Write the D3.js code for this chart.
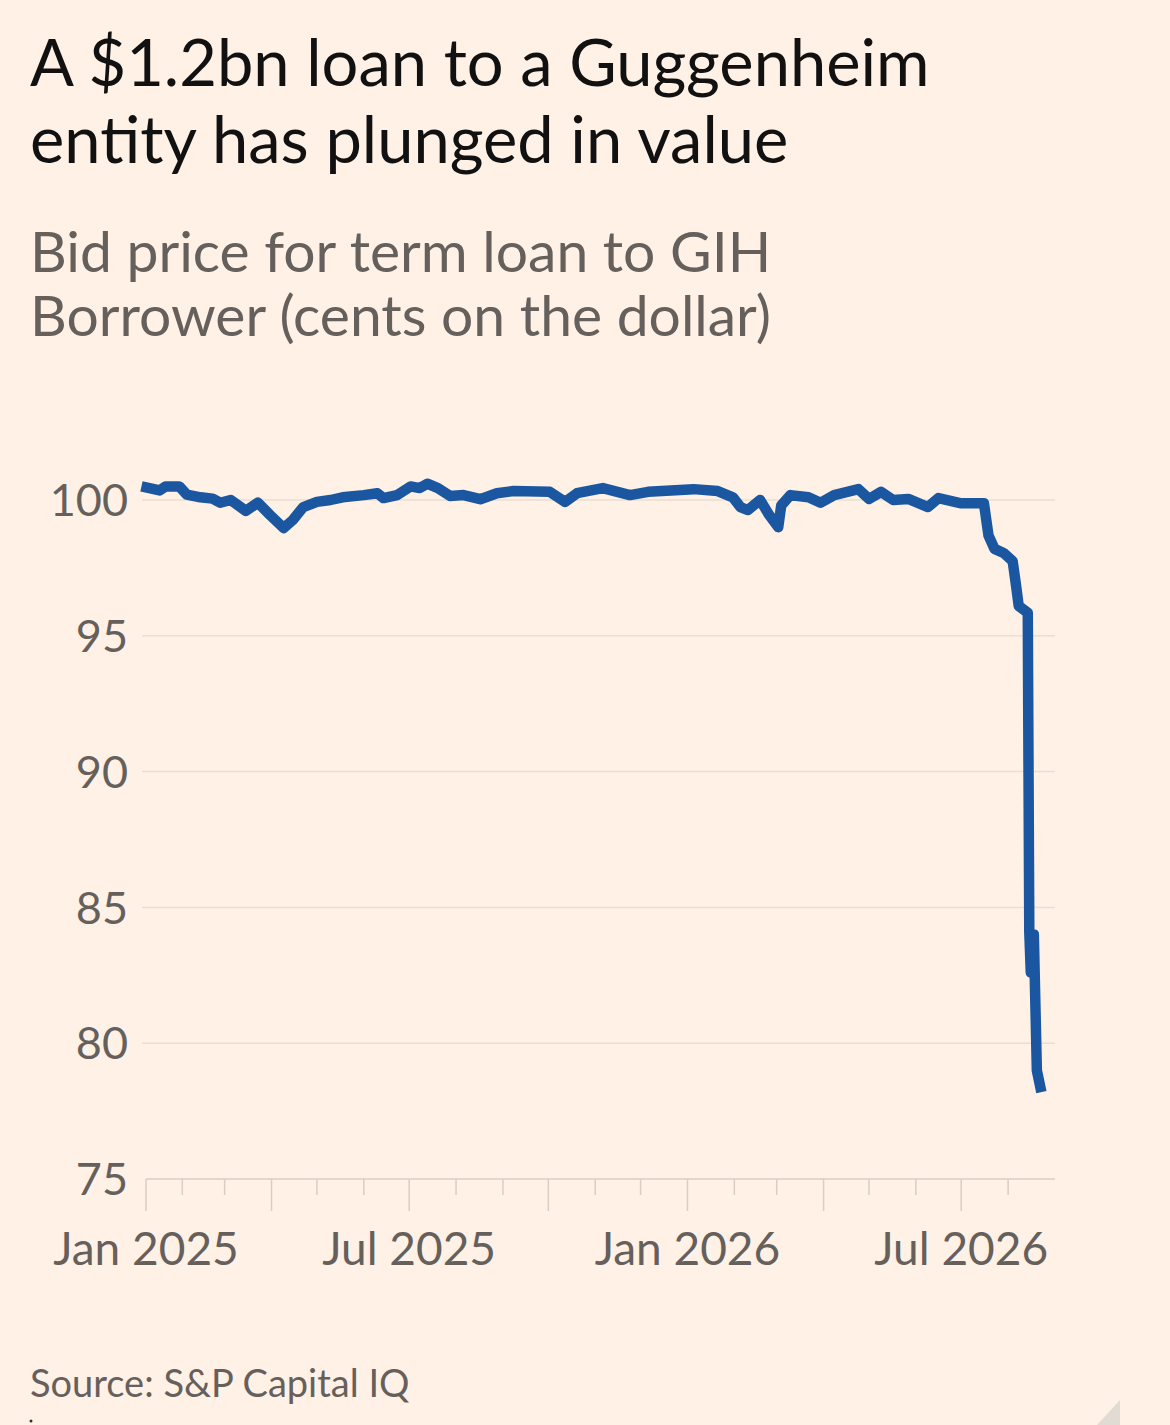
<!DOCTYPE html>
<html>
<head>
<meta charset="utf-8">
<script src="https://cdn.jsdelivr.net/npm/d3@7"></script>
<style>
  html, body { margin: 0; padding: 0; background: #fff1e5; }
  svg { display: block; }
</style>
</head>
<body>
<svg id="chart"></svg>
<script>
// bid price, cents on the dollar
const dates = [
  "2025-01-05", "2025-01-17", "2025-01-21", "2025-01-30", "2025-02-04",
  "2025-02-13", "2025-02-21", "2025-02-26", "2025-03-05", "2025-03-15",
  "2025-03-23", "2025-03-31", "2025-04-09", "2025-04-15", "2025-04-22",
  "2025-05-01", "2025-05-10", "2025-05-18", "2025-06-01", "2025-06-10",
  "2025-06-14", "2025-06-23", "2025-07-02", "2025-07-08", "2025-07-13",
  "2025-07-20", "2025-07-28", "2025-08-06", "2025-08-17", "2025-08-28",
  "2025-09-08", "2025-10-02", "2025-10-12", "2025-10-20", "2025-11-06",
  "2025-11-24", "2025-12-06", "2026-01-05", "2026-01-21", "2026-01-31",
  "2026-02-05", "2026-02-10", "2026-02-18", "2026-02-24", "2026-03-02",
  "2026-03-04", "2026-03-10", "2026-03-22", "2026-03-30", "2026-04-08",
  "2026-04-24", "2026-05-01", "2026-05-09", "2026-05-17", "2026-05-27",
  "2026-06-09", "2026-06-16", "2026-07-01", "2026-07-16", "2026-07-19",
  "2026-07-23", "2026-07-29", "2026-08-04", "2026-08-06", "2026-08-08",
  "2026-08-14", "2026-08-15", "2026-08-16", "2026-08-18", "2026-08-20",
  "2026-08-23"
];
const bids = [
  100.5, 100.35, 100.5, 100.5, 100.2,
  100.1, 100.05, 99.9, 100.0, 99.6,
  99.9, 99.45, 98.97, 99.26, 99.74,
  99.93, 100.0, 100.1, 100.18, 100.25,
  100.07, 100.18, 100.5, 100.44, 100.6,
  100.44, 100.15, 100.18, 100.03, 100.25,
  100.33, 100.3, 99.93, 100.25, 100.44,
  100.18, 100.3, 100.4, 100.33, 100.1,
  99.74, 99.63, 100.0, 99.45, 99.0,
  99.8, 100.18, 100.1, 99.9, 100.18,
  100.4, 100.04, 100.3, 100.0, 100.04,
  99.74, 100.07, 99.88, 99.88, 98.7,
  98.2, 98.05, 97.75, 96.95, 96.1,
  95.85, 84.1, 82.6, 84.0, 79.0,
  78.2
];
const yTicks = [75, 80, 85, 90, 95, 100];
const xLabels = ["Jan 2025", "Jul 2025", "Jan 2026", "Jul 2026"];
const xLabelDates = ["2025-01-08", "2025-07-01", "2026-01-01", "2026-07-01"];

const width = 1170;
const height = 1425;
const parse = d3.utcParse("%Y-%m-%d");
const data = dates.map((d, i) => ({ date: parse(d), value: bids[i] }));

const ink = "#66605c";
const font = "Lato, 'Open Sans', sans-serif";

const svg = d3.select("#chart")
  .attr("width", width)
  .attr("height", height)
  .attr("viewBox", [0, 0, width, height])
  .style("font-family", font);

svg.append("rect").attr("width", width).attr("height", height).attr("fill", "#fff1e5");

// headings
const title = svg.append("text").attr("fill", "#111").attr("font-size", 65);
title.append("tspan").attr("x", 30).attr("y", 86).text("A $1.2bn loan to a Guggenheim");
title.append("tspan").attr("x", 30).attr("y", 163).text("entity has plunged in value");

const sub = svg.append("text").attr("fill", ink).attr("font-size", 57);
sub.append("tspan").attr("x", 30).attr("y", 272).text("Bid price for term loan to GIH");
sub.append("tspan").attr("x", 30).attr("y", 336).text("Borrower (cents on the dollar)");

// the axis begins at the first data week, where the Jan 2025 tick sits
const x = d3.scaleUtc()
  .domain([parse("2025-01-08"), parse("2026-09-01")])
  .range([146, 1055]);
const y = d3.scaleLinear()
  .domain([75, 100])
  .range([1179, 500]);

// gridlines + y labels
svg.append("g").selectAll("line")
  .data(yTicks.filter(d => d !== 75))
  .join("line")
  .attr("x1", 142).attr("x2", x.range()[1])
  .attr("y1", d => y(d)).attr("y2", d => y(d))
  .attr("stroke", "#eaddd1").attr("stroke-width", 1.5);

svg.append("g").selectAll("text")
  .data(yTicks)
  .join("text")
  .attr("x", 128)
  .attr("y", d => y(d))
  .attr("dy", "0.36em")
  .attr("text-anchor", "end")
  .attr("fill", ink)
  .attr("font-size", 45)
  .text(d => d);

// x axis: monthly ticks, longer quarterly ones
const xAxisG = svg.append("g").attr("transform", `translate(0,${y(75)})`);
xAxisG.append("line")
  .attr("x1", x.range()[0]).attr("x2", x.range()[1])
  .attr("stroke", "#d9cec4").attr("stroke-width", 1.5);
const months = [x.domain()[0]].concat(d3.utcMonth.range(parse("2025-02-01"), x.domain()[1]));
xAxisG.selectAll("line.tick")
  .data(months)
  .join("line")
  .attr("class", "tick")
  .attr("x1", d => x(d)).attr("x2", d => x(d))
  .attr("y1", 0)
  .attr("y2", d => d.getUTCMonth() % 3 === 0 ? 32 : 16)
  .attr("stroke", "#d9cec4").attr("stroke-width", 1.5);
xAxisG.selectAll("text")
  .data(xLabelDates.map(parse))
  .join("text")
  .attr("x", d => x(d))
  .attr("y", 86)
  .attr("text-anchor", "middle")
  .attr("fill", ink)
  .attr("font-size", 46)
  .text((d, i) => xLabels[i]);

// line
const line = d3.line()
  .x(d => x(d.date))
  .y(d => y(d.value));

svg.append("path")
  .datum(data)
  .attr("d", line)
  .attr("fill", "none")
  .attr("stroke", "#1a57a0")
  .attr("stroke-width", 10.5)
  .attr("stroke-linejoin", "round")
  .attr("stroke-linecap", "butt");

// source
svg.append("text")
  .attr("x", 30).attr("y", 1397)
  .attr("fill", ink)
  .attr("font-size", 38)
  .text("Source: S&P Capital IQ");

// corner artefacts
svg.append("circle").attr("cx", 31).attr("cy", 1421).attr("r", 1.5).attr("fill", "#333");
svg.append("path")
  .attr("d", d3.line()([[1097, 1425], [1120, 1400], [1120, 1425]]))
  .attr("fill", "#e2dbd4");
</script>
</body>
</html>
